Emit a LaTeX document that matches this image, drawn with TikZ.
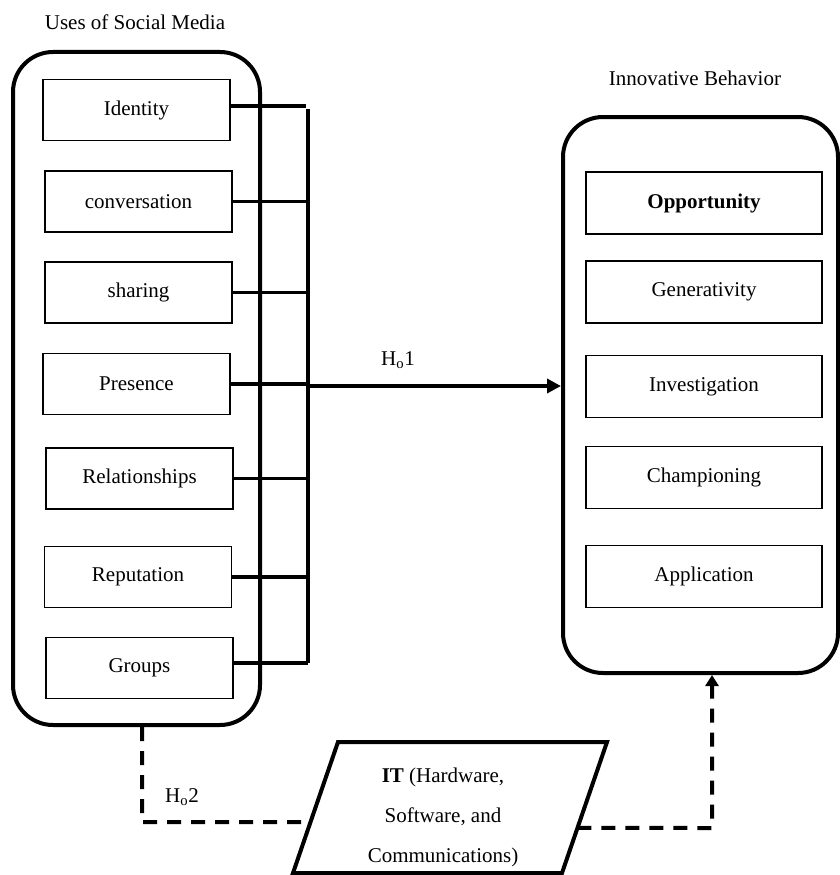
\documentclass[tikz,border=0pt]{standalone}
\usepackage{fontspec}
\setmainfont{Liberation Serif}
\usetikzlibrary{arrows.meta,calc}
\begin{document}
\begin{tikzpicture}[x=1pt,y=-1pt,
  every node/.style={font=\fontsize{21}{25}\selectfont},
  item/.style={draw, line width=1.8pt, inner sep=0pt, minimum width=187pt, minimum height=61pt},
  ritem/.style={draw, line width=1.8pt, inner sep=0pt, minimum width=236pt, minimum height=62pt},
  groupbox/.style={draw, line width=4pt, rounded corners=40pt, inner sep=0pt},
  link/.style={line width=3.5pt},
  dlink/.style={line width=4pt, dash pattern=on 14pt off 10pt},
]
\useasboundingbox (0,0) rectangle (840,875);

% titles
\node (smtitle) at (135,22) {Uses of Social Media};
\node (ibtitle) at (695,78) {Innovative Behavior};

% left group
\node[groupbox, minimum width=247pt, minimum height=673pt] (smbox) at (136.5,388.5) {};
\node[item] (ident) at (136.5,110) {Identity};
\node[item] (conv)  at (138.5,201.5) {conversation};
\node[item] (shar)  at (138.5,292.5) {sharing};
\node[item] (pres)  at (136.5,384) {Presence};
\node[item] (rel)   at (139.5,478.5) {Relationships};
\node[item] (rep)   at (138,577) {Reputation};
\node[item] (grp)   at (139.5,668) {Groups};

% right group
\node[groupbox, minimum width=275pt, minimum height=556pt] (ibbox) at (700.5,395) {};
\node[ritem] (opp) at (704,203) {\textbf{Opportunity}};
\node[ritem] (gen) at (704,292) {Generativity};
\node[ritem] (inv) at (704,386.5) {Investigation};
\node[ritem] (cha) at (704,477.5) {Championing};
\node[ritem] (app) at (704,576.5) {Application};

% bracket
\coordinate (barTop) at (308,109);
\coordinate (barBot) at (308,663);
\coordinate (identEnd) at (306,106);
\draw[link] (barTop) -- (barBot);
\draw[link] (ident.east |- identEnd) -- (identEnd);
\draw[link] (conv.east) -- (conv.east -| barTop);
\draw[link] (shar.east) -- (shar.east -| barTop);
\draw[link] (pres.east) -- (pres.east -| barTop);
\draw[link] (rel.east) -- (rel.east -| barTop);
\draw[link] (rep.east) -- (rep.east -| barTop);
\draw[link] (grp.east |- barBot) -- (barBot);

% H1 arrow
\coordinate (hoStart) at (308,386);
\draw[link, -{Triangle[length=14pt,width=14pt]}] (hoStart) -- (ibbox.west |- hoStart);
\node (ho1) at (398,360) {H\textsubscript{o}1};

% IT parallelogram
\coordinate (pTL) at (338,742);
\coordinate (pTR) at (607,742);
\coordinate (pBR) at (562,873);
\coordinate (pBL) at (293,873);
\draw[line width=4pt, line join=miter] (pTL) -- (pTR) -- (pBR) -- (pBL) -- cycle;
\node[align=center, font=\fontsize{21}{40}\selectfont] (itbox) at (443,817)
  {\textbf{IT} (Hardware,\\ Software, and\\ Communications)};

% dashed connectors
\coordinate (lcorner) at (142,822);
\coordinate (pL) at ($(pTL)!0.611!(pBL)$);
\draw[dlink] (smbox.south -| lcorner) -- (lcorner) -- (pL);
\node (ho2) at (182,797) {H\textsubscript{o}2};

\coordinate (pR) at ($(pTR)!0.656!(pBR)$);
\coordinate (rcorner) at (712,828);
\draw[dlink, -{Triangle[length=11pt,width=13pt]}] (pR) -- (rcorner) -- (ibbox.south -| rcorner);
\end{tikzpicture}
\end{document}
